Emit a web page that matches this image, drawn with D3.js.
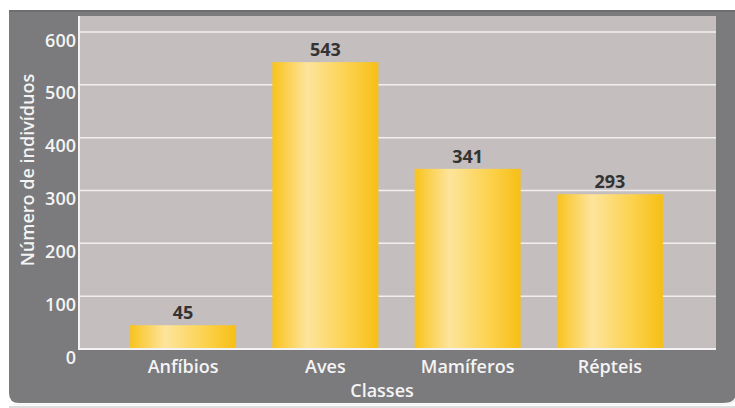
<!DOCTYPE html>
<html><head><meta charset="utf-8">
<script src="https://cdn.jsdelivr.net/npm/d3@7"></script>
<style>
html,body{margin:0;padding:0;background:#fff;}
svg{display:block;}
text{font-family:"Open Sans","Noto Sans",sans-serif;}
</style></head>
<body><div id="chart"></div>
<script>
const categories = ["Anfíbios","Aves","Mamíferos","Répteis"];
const values = [45,543,341,293];
const yTicks = [0,100,200,300,400,500,600];
const yTitle = "Número de indivíduos";
const xTitle = "Classes";

const W = 735, H = 408;
const svg = d3.select("#chart").append("svg").attr("width",W).attr("height",H);
const defs = svg.append("defs");
const grad = defs.append("linearGradient").attr("id","barGrad").attr("x1","0%").attr("x2","100%").attr("y1","0%").attr("y2","0%");
grad.append("stop").attr("offset","0%").attr("stop-color","#f9c31c");
grad.append("stop").attr("offset","33%").attr("stop-color","#fde49c");
grad.append("stop").attr("offset","70%").attr("stop-color","#fcd24f");
grad.append("stop").attr("offset","100%").attr("stop-color","#f7bf15");

// outer panel
svg.append("path")
  .attr("d", `M9,10 H${W+20} V393 Q${W-2},403 ${W-12},403 H19 Q9,403 9,393 Z`)
  .attr("fill","#7b7a7c");
// bottom highlight
svg.append("path")
  .attr("d", `M14,404.5 H${W-12} Q${W-1},404.5 ${W+2},395`)
  .attr("fill","none").attr("stroke","#f4f4f4").attr("stroke-width",1.5);
svg.append("line").attr("x1",9).attr("x2",W).attr("y1",407).attr("y2",407).attr("stroke","#b9b9b9").attr("stroke-width",1);
svg.append("rect").attr("x",9).attr("y",10).attr("width",W).attr("height",2).attr("fill","#6e6d6f");

const plot = {left:79, right:716, top:16, bottom:349};
svg.append("rect").attr("x",plot.left).attr("y",plot.top)
  .attr("width",plot.right-plot.left).attr("height",plot.bottom-plot.top)
  .attr("fill","#c4bebf");

const y = d3.scaleLinear().domain([0,600]).range([349,32]);
const x = d3.scaleBand().domain(categories).range([112,681]).paddingInner(0.255).paddingOuter(0.1275);

// gridlines
svg.append("g").selectAll("line").data(yTicks.filter(d=>d>0)).join("line")
  .attr("x1",plot.left).attr("x2",plot.right)
  .attr("y1",d=>y(d)).attr("y2",d=>y(d))
  .attr("stroke","#f2efef").attr("stroke-width",1.5);

// bars
svg.append("g").selectAll("rect").data(values).join("rect")
  .attr("x",(d,i)=>x(categories[i]))
  .attr("width",x.bandwidth())
  .attr("y",d=>y(d))
  .attr("height",d=>y(0)-y(d))
  .attr("fill","url(#barGrad)");

// axes lines
svg.append("line").attr("x1",plot.left).attr("x2",plot.left).attr("y1",plot.top).attr("y2",plot.bottom+1)
  .attr("stroke","#f4f2f2").attr("stroke-width",2);
svg.append("line").attr("x1",plot.left).attr("x2",plot.right).attr("y1",plot.bottom).attr("y2",plot.bottom)
  .attr("stroke","#f4f2f2").attr("stroke-width",2);

// y axis via d3
const yAxis = d3.axisLeft(y).tickValues(yTicks).tickSize(0).tickPadding(0);
const gy = svg.append("g").attr("transform","translate(76,0)").call(yAxis);
gy.select(".domain").remove();
gy.selectAll("text").attr("fill","#f4f4f4").attr("font-size","18px").attr("font-weight","600")
  .attr("font-family","'Open Sans',sans-serif").attr("dy","0").attr("transform","translate(0,14)");

// x axis via d3
const xAxis = d3.axisBottom(x).tickSize(0).tickPadding(0);
const gx = svg.append("g").attr("transform","translate(0,373)").call(xAxis);
gx.select(".domain").remove();
gx.selectAll("text").attr("fill","#f4f4f4").attr("font-size","18px").attr("font-weight","600")
  .attr("font-family","'Open Sans',sans-serif").attr("dy","0");

// value labels
svg.append("g").selectAll("text").data(values).join("text")
  .attr("x",(d,i)=>x(categories[i])+x.bandwidth()/2)
  .attr("y",d=>y(d)-6)
  .attr("text-anchor","middle")
  .attr("fill","#333")
  .attr("font-size","18px").attr("font-weight","700")
  .text(d=>d);

// titles
svg.append("text").attr("x",382).attr("y",397).attr("text-anchor","middle")
  .attr("fill","#f4f4f4").attr("font-size","18px").attr("font-weight","600").text(xTitle);
svg.append("text").attr("transform","translate(34,170) rotate(-90)").attr("text-anchor","middle")
  .attr("fill","#f4f4f4").attr("font-size","18px").attr("font-weight","600").text(yTitle);
</script></body></html>
